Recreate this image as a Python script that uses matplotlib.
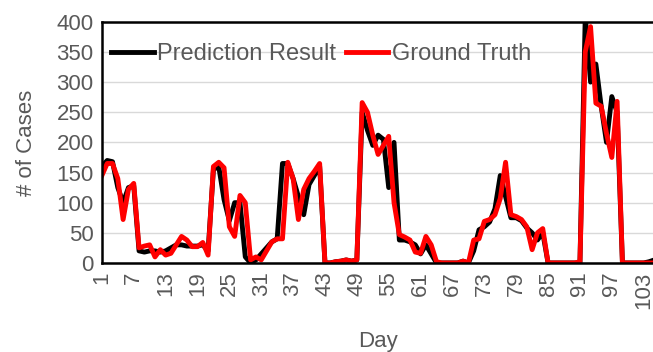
import matplotlib.pyplot as plt
import numpy as np

plt.rcParams['font.family'] = ['Liberation Sans', 'DejaVu Sans']

# daily case counts, day 1..105
ground_truth = [
    145, 165, 165, 140, 72, 122, 132, 25, 28, 30,
    10, 22, 13, 16, 30, 44, 38, 27, 27, 34,
    13, 160, 167, 158, 60, 44, 112, 100, 5, 10,
    5, 20, 35, 40, 40, 167, 140, 72, 122, 140,
    152, 165, 0, 0, 2, 3, 5, 3, 5, 266,
    250, 212, 180, 195, 210, 100, 47, 43, 38, 18,
    16, 44, 30, 2, 0, 0, 0, 0, 3, 0,
    38, 40, 69, 72, 80, 107, 167, 80, 77, 72,
    60, 22, 50, 57, 0, 0, 0, 0, 0, 0,
    2, 350, 392, 265, 260, 215, 175, 268, 0, 0,
    0, 0, 0, 0, 0,
]
prediction = [
    160, 170, 168, 125, 100, 125, 128, 20, 18, 20,
    20, 18, 20, 25, 30, 30, 28, 28, 28, 30,
    20, 155, 160, 105, 70, 100, 100, 10, 0, 5,
    15, 25, 35, 40, 165, 165, 140, 110, 80, 130,
    145, 160, 0, 0, 2, 3, 5, 3, 5, 250,
    220, 195, 212, 205, 125, 200, 38, 38, 35, 30,
    15, 30, 15, 0, 0, 0, 0, 0, 3, 0,
    20, 55, 60, 68, 90, 145, 110, 75, 75, 70,
    58, 50, 38, 50, 0, 0, 0, 0, 0, 0,
    0, 410, 300, 330, 260, 200, 276, 250, 0, 0,
    0, 0, 0, 2, 5,
]
days = np.arange(1, len(ground_truth) + 1)
tick_days = np.arange(1, 104, 6)

grey = '#595959'

fig = plt.figure(figsize=(6.53, 3.52), dpi=100)
ax = fig.add_axes([0.156, 0.253, 0.846, 0.685])

ax.plot(days, prediction, color='black', lw=3.5, label='Prediction Result')
ax.plot(days, ground_truth, color='#ff0000', lw=3.5, label='Ground Truth')

ax.set_xlim(1, 105)
ax.set_ylim(0, 400)
ax.set_yticks(np.arange(0, 401, 50))
ax.set_xticks(tick_days)
ax.set_xticklabels([str(d) for d in tick_days], rotation=90)
ax.tick_params(axis='both', length=0, labelsize=16, labelcolor=grey, pad=6)
ax.grid(axis='y', color='#d9d9d9', lw=1)
ax.set_axisbelow(True)

for side in ('left', 'top', 'bottom'):
    ax.spines[side].set_linewidth(1.8)
    ax.spines[side].set_color('black')
ax.spines['right'].set_visible(False)

ax.set_xlabel('Day', fontsize=16, color=grey, labelpad=16)
ax.set_ylabel('# of Cases', fontsize=16, color=grey, labelpad=14)

leg = ax.legend(loc='upper left', ncol=2, frameon=False, fontsize=17,
                handlelength=1.8, handletextpad=0.15, columnspacing=0.4,
                bbox_to_anchor=(0.0, 0.95), borderaxespad=0)
for t in leg.get_texts():
    t.set_color(grey)

fig.savefig('out.png', dpi=100)
